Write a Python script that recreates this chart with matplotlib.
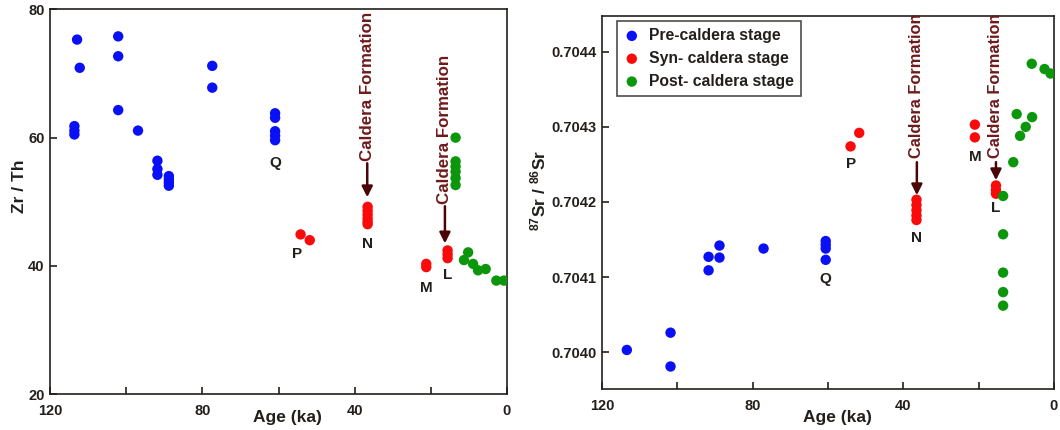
"""Zr/Th and 87Sr/86Sr against age for the caldera stages (two panels)."""

import matplotlib

matplotlib.use("Agg")
import matplotlib.pyplot as plt

plt.rcParams["font.family"] = ["Liberation Sans", "DejaVu Sans"]
plt.rcParams["font.weight"] = "bold"
plt.rcParams["mathtext.default"] = "regular"

BLUE = "#0a10f5"
RED = "#fa0a0a"
GREEN = "#0c960c"
INK = "#231f1c"
MAROON_TEXT = "#6e1a1a"
MAROON_ARROW = "#4a0606"

# ---- left panel: Zr / Th ----
pre_left_age = [112.9, 112.2, 113.6, 113.6, 113.6, 102.1, 102.1, 102.1, 96.9,
                91.8, 91.8, 91.8, 88.8, 88.8, 88.8, 88.8, 77.4, 77.4,
                60.9, 60.9, 60.9, 60.9, 60.9]
pre_left_zrth = [75.3, 70.9, 61.8, 61.1, 60.5, 75.8, 72.7, 64.3, 61.1,
                 56.4, 55.1, 54.2, 54.0, 53.5, 53.0, 52.5, 71.2, 67.8,
                 63.8, 63.1, 61.0, 60.3, 59.6]
syn_left_age = [54.2, 51.8, 36.6, 36.6, 36.6, 36.6, 36.6, 36.6,
                21.2, 21.2, 15.6, 15.6, 15.6]
syn_left_zrth = [44.9, 44.0, 49.2, 48.6, 48.0, 47.4, 46.9, 46.5,
                 40.3, 39.8, 42.4, 41.8, 41.2]
post_left_age = [13.5, 13.5, 13.5, 13.5, 13.5, 13.5, 10.2, 11.3, 8.9, 7.6, 5.6, 2.8, 0.8]
post_left_zrth = [60.0, 56.3, 55.5, 54.7, 53.7, 52.6, 42.1, 40.9, 40.3, 39.3, 39.5, 37.7, 37.7]

# ---- right panel: 87Sr / 86Sr ----
pre_right_age = [113.4, 101.8, 101.8, 91.7, 91.7, 88.8, 88.8, 77.1, 60.6, 60.6, 60.6, 60.6]
pre_right_sr = [0.704003, 0.704026, 0.703981, 0.704127, 0.704109, 0.704142, 0.704126,
                0.704138, 0.704148, 0.704143, 0.704138, 0.704123]
syn_right_age = [51.7, 54.0, 36.5, 36.5, 36.5, 36.5, 36.5, 21.0, 21.0, 15.4, 15.4, 15.4]
syn_right_sr = [0.704292, 0.704274, 0.704203, 0.704196, 0.704189, 0.704182, 0.704176,
                0.704303, 0.704286, 0.704222, 0.704216, 0.704211]
post_right_age = [5.9, 2.5, 0.9, 9.9, 5.8, 7.5, 9.0, 10.8, 13.5, 13.5, 13.5, 13.5, 13.5]
post_right_sr = [0.704384, 0.704377, 0.704371, 0.704317, 0.704313, 0.704300, 0.704288,
                 0.704253, 0.704208, 0.704157, 0.704106, 0.704080, 0.704062]

# group letters: (letter, age, value)
left_letters = [("Q", 60.9, 56.0), ("P", 55.0, 41.9), ("N", 36.6, 43.4),
                ("M", 21.2, 36.5), ("L", 15.6, 38.5)]
right_letters = [("Q", 60.6, 0.704097), ("P", 54.0, 0.704251), ("N", 36.5, 0.704152),
                 ("M", 21.0, 0.704260), ("L", 15.4, 0.704192)]

# caldera arrows: (age, text bottom, arrow start, arrow tip)
left_caldera = [(36.7, 56.4, 56.0, 50.7), (16.3, 49.7, 49.3, 43.5)]
right_caldera = [(36.4, 0.704259, 0.704253, 0.704209), (15.4, 0.704259, 0.704253, 0.704229)]

age_ticks = [120, 100, 80, 60, 40, 20, 0]
age_labels = ["120", "", "80", "", "40", "", "0"]
zrth_ticks = [20, 40, 60, 80]
sr_ticks = [0.7040, 0.7041, 0.7042, 0.7043, 0.7044]

MS = 56


def style_axes(ax, xlabel_y):
    for spine in ax.spines.values():
        spine.set_color(INK)
        spine.set_linewidth(1.2)
    ax.tick_params(direction="in", length=5, width=1.2, colors=INK, labelsize=10.5)
    ax.tick_params(axis="x", pad=7)
    ax.tick_params(axis="y", pad=4)
    ax.set_xlim(120, 0)
    ax.set_xticks(age_ticks)
    ax.set_xticklabels(age_labels, fontweight="bold")
    ax.set_xlabel("Age (ka)", fontsize=12.5, fontweight="bold", color=INK)
    ax.xaxis.set_label_coords(0.52, xlabel_y)


def draw_caldera(ax, marks, size):
    for x, text_y, start_y, tip_y in marks:
        ax.annotate("", xy=(x, tip_y), xytext=(x, start_y),
                    arrowprops=dict(arrowstyle="-|>", color=MAROON_ARROW, lw=1.8,
                                    mutation_scale=16, shrinkA=0, shrinkB=0))
        ax.text(x, text_y, "Caldera Formation", rotation=90, ha="center", va="bottom",
                fontsize=size, fontweight="bold", color=MAROON_TEXT)


def draw_letters(ax, letters):
    for name, x, y in letters:
        ax.text(x, y, name, ha="center", va="center", fontsize=11,
                fontweight="bold", color=INK)


fig = plt.figure(figsize=(10.6, 4.3), dpi=100, facecolor="white")
ax1 = fig.add_axes([0.0472, 0.0837, 0.4311, 0.8943])
ax2 = fig.add_axes([0.5679, 0.0953, 0.4264, 0.8682])

# left panel
ax1.scatter(pre_left_age, pre_left_zrth, s=MS, color=BLUE, edgecolors="none", zorder=3)
ax1.scatter(syn_left_age, syn_left_zrth, s=MS, color=RED, edgecolors="none", zorder=3)
ax1.scatter(post_left_age, post_left_zrth, s=MS, color=GREEN, edgecolors="none", zorder=3)
style_axes(ax1, -0.042)
ax1.set_ylim(20, 80)
ax1.set_yticks(zrth_ticks)
ax1.set_yticklabels([str(t) for t in zrth_ticks], fontweight="bold")
ax1.set_ylabel("Zr / Th", fontsize=12.5, fontweight="bold", color=INK)
ax1.yaxis.set_label_coords(-0.050, 0.54)
draw_caldera(ax1, left_caldera, 12.2)
draw_letters(ax1, left_letters)

# right panel
ax2.scatter(pre_right_age, pre_right_sr, s=MS, color=BLUE, edgecolors="none",
            zorder=3, label="Pre-caldera stage")
ax2.scatter(syn_right_age, syn_right_sr, s=MS, color=RED, edgecolors="none",
            zorder=3, label="Syn- caldera stage")
ax2.scatter(post_right_age, post_right_sr, s=MS, color=GREEN, edgecolors="none",
            zorder=3, label="Post- caldera stage")
style_axes(ax2, -0.056)
ax2.set_ylim(0.703951, 0.704448)
ax2.set_yticks(sr_ticks)
ax2.set_yticklabels([f"{t:.4f}" for t in sr_ticks], fontweight="bold")
ax2.set_ylabel("$^{87}$Sr / $^{86}$Sr", fontsize=12.5, fontweight="bold", color=INK)
ax2.yaxis.set_label_coords(-0.119, 0.533)
draw_caldera(ax2, right_caldera, 11.8)
draw_letters(ax2, right_letters)

leg = ax2.legend(loc="upper left", bbox_to_anchor=(0.033, 0.986), borderaxespad=0,
                 scatterpoints=1, handlelength=1.0, handletextpad=0.6, labelspacing=0.5,
                 borderpad=0.45, fancybox=False, frameon=True,
                 prop=dict(weight="bold", size=11.3))
leg.get_frame().set_edgecolor(INK)
leg.get_frame().set_linewidth(1.2)
for t in leg.get_texts():
    t.set_color(INK)

fig.savefig("out.png", dpi=100, facecolor="white")
plt.close(fig)
